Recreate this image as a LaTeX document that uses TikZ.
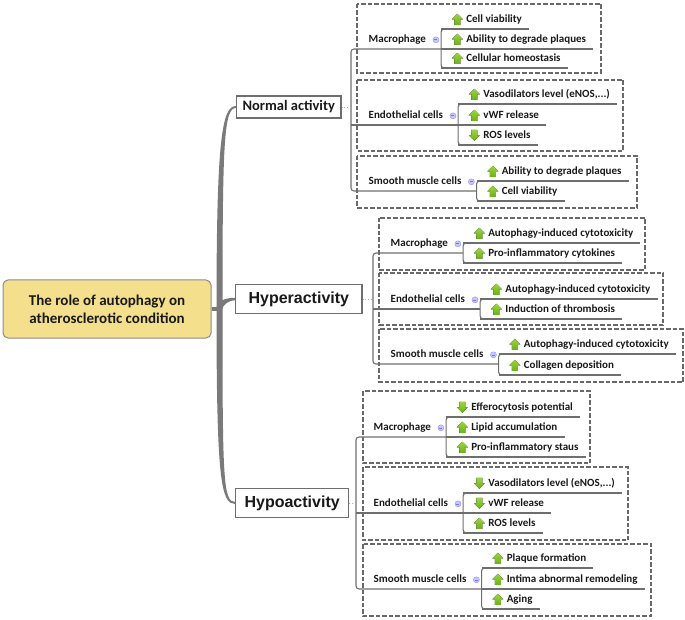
\documentclass[tikz,border=0pt]{standalone}
\usepackage{fontspec}
\setmainfont{Carlito}
\newfontfamily\headfont{Liberation Sans}
\definecolor{linegray}{RGB}{110,110,110}
\definecolor{boxgray}{RGB}{105,105,105}
\definecolor{trunkgray}{RGB}{122,122,122}
\definecolor{rootfill}{RGB}{244,223,140}
\definecolor{dotblue}{RGB}{150,175,220}
\definecolor{icontop}{RGB}{165,218,70}
\definecolor{iconbot}{RGB}{88,165,12}
\definecolor{txt}{RGB}{25,25,25}

\begin{document}
\begin{tikzpicture}[x=1pt, y=-1pt,
    root/.style={rectangle, draw=linegray!80, line width=1pt, rounded corners=5pt, fill=rootfill,
        minimum width=208pt, minimum height=58pt, align=center, text=txt,
        font=\fontsize{15}{18}\selectfont\bfseries},
    branch/.style={rectangle, draw=linegray, line width=1.2pt, fill=white, anchor=west, text=txt},
    normbranch/.style={branch, inner xsep=6pt, minimum height=22pt, font=\fontsize{14.5}{16}\selectfont\bfseries},
    bigbranch/.style={branch, inner xsep=13pt, minimum height=29pt, font=\headfont\fontsize{16}{18}\selectfont\bfseries},
    cat/.style={anchor=south west, inner xsep=0pt, inner ysep=3pt, text height=8pt, text depth=3pt, text=txt,
        font=\fontsize{11}{13}\selectfont\bfseries,
        execute at begin node=\hspace*{17.5pt}, execute at end node=\hspace*{15pt},
        path picture={
            \fill[blue!22, draw=blue!40, line width=0.5pt] ([shift={(-5,-9)}]path picture bounding box.south east) circle[radius=3];
            \draw[blue!55, line width=0.6pt] ([shift={(-6.5,-9)}]path picture bounding box.south east) -- ++(3,0);}},
    item/.style={anchor=south west, inner xsep=0pt, inner ysep=3pt, text height=8pt, text depth=3pt, text=txt,
        font=\fontsize{11}{13}\selectfont\bfseries,
        execute at begin node=\hspace*{25pt}, execute at end node=\hspace*{7pt}},
    upicon/.style={path picture={
        \fill[top color=icontop, bottom color=iconbot] ([shift={(16,-9.5)}]path picture bounding box.south west)
            ++(-5.5,0) -- ++(5.5,-5.5) -- ++(5.5,5.5) -- ++(-2.5,0) -- ++(0,5.5) -- ++(-6,0) -- ++(0,-5.5) -- cycle;}},
    downicon/.style={path picture={
        \fill[top color=icontop, bottom color=iconbot] ([shift={(16,-9.5)}]path picture bounding box.south west)
            ++(-3,-5.5) -- ++(6,0) -- ++(0,5.5) -- ++(2.5,0) -- ++(-5.5,5.5) -- ++(-5.5,-5.5) -- ++(2.5,0) -- cycle;}},
    link/.style={draw=linegray, line width=1.1pt},
    grp/.style={draw=boxgray, line width=1.5pt, dash pattern=on 4.5pt off 2pt},
    dots/.style={draw=dotblue, line width=0.8pt, dotted},
    trunk/.style={fill=trunkgray}
]
\useasboundingbox (0,0) rectangle (685,620);

\node[root] (root) at (107,309) {The role of autophagy on\\atherosclerotic condition};
\coordinate (hub) at ([xshift=8]root.east);

\node[normbranch] (normal) at (236,107) {Normal activity};
\node[bigbranch] (hyper) at (235,299) {Hyperactivity};
\node[bigbranch, inner xsep=9pt] (hypo) at (235,503) {Hypoactivity};

% Trunk
\draw[trunkgray, line width=3.5pt] (root.east) -- (hub);
\fill[trunk] ([xshift=-3]hub) .. controls +(0,-170) and +(-14,0) .. ([yshift=1]normal.west)
    -- ([yshift=-1]normal.west) .. controls +(-12,0) and +(0,-168) .. ([xshift=3]hub) -- cycle;
\fill[trunk] ([xshift=-3]hub) .. controls +(0,-8) and +(-10,0) .. ([yshift=1.2]hyper.west)
    -- ([yshift=-1.2]hyper.west) .. controls +(-6,0) and +(0,-4) .. ([xshift=3]hub) -- cycle;
\fill[trunk] ([xshift=-3]hub) .. controls +(0,170) and +(-14,0) .. ([yshift=-1]hypo.west)
    -- ([yshift=1]hypo.west) .. controls +(-12,0) and +(0,168) .. ([xshift=3]hub) -- cycle;

% Normal activity
\node[cat] (norm-mac) at (351,49) {Macrophage};
\foreach \dy/\ic/\txt [count=\k] in {-20/upicon/Cell viability, 0/upicon/Ability to degrade plaques, 19/upicon/Cellular homeostasis}{
    \node[item, \ic] (norm-mac-\k) at ([shift={(0,\dy)}]norm-mac.south east) {\txt};
    \draw[link] (norm-mac-\k.south west) -- (norm-mac-\k.south east);
}
\draw[link, rounded corners=3] ([xshift=8]norm-mac-1.south west) -- (norm-mac-1.south west) -- (norm-mac-3.south west) -- ([xshift=8]norm-mac-3.south west);
\draw[grp] (357,4) rectangle (601,73);

\node[cat] (norm-end) at (351,125) {Endothelial cells};
\foreach \dy/\ic/\txt [count=\k] in {-21/upicon/{Vasodilators level (eNOS,...)}, 0/upicon/vWF release, 20/downicon/ROS levels}{
    \node[item, \ic] (norm-end-\k) at ([shift={(0,\dy)}]norm-end.south east) {\txt};
    \draw[link] (norm-end-\k.south west) -- (norm-end-\k.south east);
}
\draw[link, rounded corners=3] ([xshift=8]norm-end-1.south west) -- (norm-end-1.south west) -- (norm-end-3.south west) -- ([xshift=8]norm-end-3.south west);
\draw[grp] (357,80) rectangle (623,151);

\node[cat] (norm-smc) at (351,191) {Smooth muscle cells};
\foreach \dy/\ic/\txt [count=\k] in {-10/upicon/Ability to degrade plaques, 10/upicon/Cell viability}{
    \node[item, \ic] (norm-smc-\k) at ([shift={(0,\dy)}]norm-smc.south east) {\txt};
    \draw[link] (norm-smc-\k.south west) -- (norm-smc-\k.south east);
}
\draw[link, rounded corners=3] ([xshift=8]norm-smc-1.south west) -- (norm-smc-1.south west) -- (norm-smc-2.south west) -- ([xshift=8]norm-smc-2.south west);
\draw[grp] (357,156) rectangle (637,208);

\draw[link, rounded corners=3] (norm-mac.south east) -- (norm-mac.south west) -- (norm-smc.south west) -- (norm-smc.south east);
\draw[link] (norm-end.south west) -- (norm-end.south east);
\draw[dots] (normal.east) -- (normal.east -| norm-mac.south west);

% Hyperactivity
\node[cat] (hyper-mac) at (373,253) {Macrophage};
\foreach \dy/\ic/\txt [count=\k] in {-10/upicon/Autophagy-induced cytotoxicity, 10/upicon/Pro-inflammatory cytokines}{
    \node[item, \ic] (hyper-mac-\k) at ([shift={(0,\dy)}]hyper-mac.south east) {\txt};
    \draw[link] (hyper-mac-\k.south west) -- (hyper-mac-\k.south east);
}
\draw[link, rounded corners=3] ([xshift=8]hyper-mac-1.south west) -- (hyper-mac-1.south west) -- (hyper-mac-2.south west) -- ([xshift=8]hyper-mac-2.south west);
\draw[grp] (379,218) rectangle (645,270);

\node[cat] (hyper-end) at (373,309) {Endothelial cells};
\foreach \dy/\ic/\txt [count=\k] in {-10/upicon/Autophagy-induced cytotoxicity, 10/upicon/Induction of thrombosis}{
    \node[item, \ic] (hyper-end-\k) at ([shift={(0,\dy)}]hyper-end.south east) {\txt};
    \draw[link] (hyper-end-\k.south west) -- (hyper-end-\k.south east);
}
\draw[link, rounded corners=3] ([xshift=8]hyper-end-1.south west) -- (hyper-end-1.south west) -- (hyper-end-2.south west) -- ([xshift=8]hyper-end-2.south west);
\draw[grp] (379,273) rectangle (663,325);

\node[cat] (hyper-smc) at (373,364) {Smooth muscle cells};
\foreach \dy/\ic/\txt [count=\k] in {-10/upicon/Autophagy-induced cytotoxicity, 11/upicon/Collagen deposition}{
    \node[item, \ic] (hyper-smc-\k) at ([shift={(0,\dy)}]hyper-smc.south east) {\txt};
    \draw[link] (hyper-smc-\k.south west) -- (hyper-smc-\k.south east);
}
\draw[link, rounded corners=3] ([xshift=8]hyper-smc-1.south west) -- (hyper-smc-1.south west) -- (hyper-smc-2.south west) -- ([xshift=8]hyper-smc-2.south west);
\draw[grp] (379,329) rectangle (683,382);

\draw[link, rounded corners=3] (hyper-mac.south east) -- (hyper-mac.south west) -- (hyper-smc.south west) -- (hyper-smc.south east);
\draw[link] (hyper-end.south west) -- (hyper-end.south east);
\draw[dots] (hyper.east) -- (hyper.east -| hyper-mac.south west);

% Hypoactivity
\node[cat] (hypo-mac) at (356,437) {Macrophage};
\foreach \dy/\ic/\txt [count=\k] in {-20/downicon/Efferocytosis potential, 0/upicon/Lipid accumulation, 20/upicon/Pro-inflammatory staus}{
    \node[item, \ic] (hypo-mac-\k) at ([shift={(0,\dy)}]hypo-mac.south east) {\txt};
    \draw[link] (hypo-mac-\k.south west) -- (hypo-mac-\k.south east);
}
\draw[link, rounded corners=3] ([xshift=8]hypo-mac-1.south west) -- (hypo-mac-1.south west) -- (hypo-mac-3.south west) -- ([xshift=8]hypo-mac-3.south west);
\draw[grp] (363,391) rectangle (590,463);

\node[cat] (hypo-end) at (356,513) {Endothelial cells};
\foreach \dy/\ic/\txt [count=\k] in {-20/downicon/{Vasodilators level (eNOS,...)}, 0/downicon/vWF release, 20/upicon/ROS levels}{
    \node[item, \ic] (hypo-end-\k) at ([shift={(0,\dy)}]hypo-end.south east) {\txt};
    \draw[link] (hypo-end-\k.south west) -- (hypo-end-\k.south east);
}
\draw[link, rounded corners=3] ([xshift=8]hypo-end-1.south west) -- (hypo-end-1.south west) -- (hypo-end-3.south west) -- ([xshift=8]hypo-end-3.south west);
\draw[grp] (363,467) rectangle (628,540);

\node[cat] (hypo-smc) at (356,589) {Smooth muscle cells};
\foreach \dy/\ic/\txt [count=\k] in {-21/upicon/Plaque formation, 0/upicon/Intima abnormal remodeling, 20/upicon/Aging}{
    \node[item, \ic] (hypo-smc-\k) at ([shift={(0,\dy)}]hypo-smc.south east) {\txt};
    \draw[link] (hypo-smc-\k.south west) -- (hypo-smc-\k.south east);
}
\draw[link, rounded corners=3] ([xshift=8]hypo-smc-1.south west) -- (hypo-smc-1.south west) -- (hypo-smc-3.south west) -- ([xshift=8]hypo-smc-3.south west);
\draw[grp] (363,544) rectangle (651,616);

\draw[link, rounded corners=3] (hypo-mac.south east) -- (hypo-mac.south west) -- (hypo-smc.south west) -- (hypo-smc.south east);
\draw[link] (hypo-end.south west) -- (hypo-end.south east);
\draw[dots] (hypo.east) -- (hypo.east -| hypo-mac.south west);

\end{tikzpicture}
\end{document}
